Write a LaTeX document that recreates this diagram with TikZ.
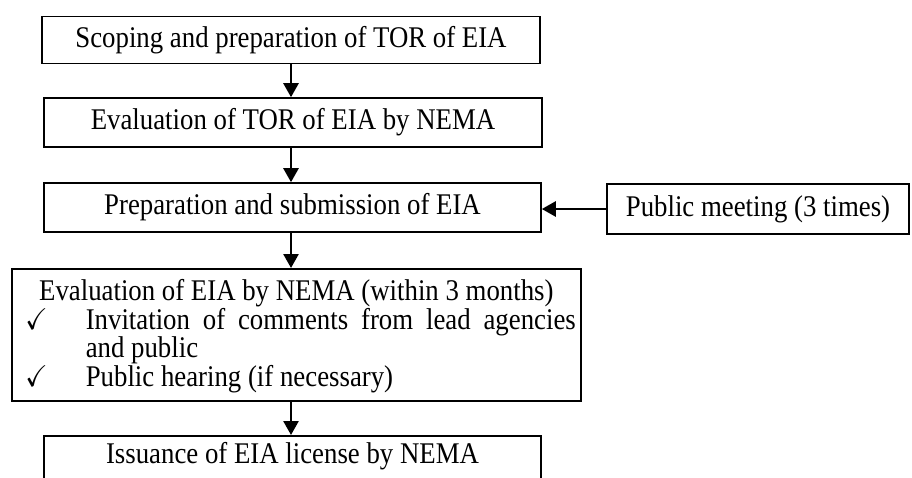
\documentclass[tikz,border=0pt]{standalone}
\usepackage{amssymb}
\usepackage{graphicx}
\usepackage{fontspec}
\setmainfont{Liberation Serif}
\usetikzlibrary{arrows.meta}
\newcommand{\tallt}[1]{\scalebox{1}[1.12]{#1}}
\begin{document}
\begin{tikzpicture}[x=1pt,y=-1pt,
  stepbox/.style={draw,line width=1.6pt,inner sep=0pt,align=center,
    font=\fontsize{26.8}{24.2}\selectfont},
  arr/.style={line width=2.6pt,-{Triangle[width=15pt,length=14pt]}}]
\clip (0,0) rectangle (912,477);
\node[stepbox,minimum width=498pt,minimum height=47pt] (b1) at (291,40) {\tallt{Scoping and preparation of TOR of EIA}};
\node[stepbox,minimum width=498pt,minimum height=49pt] (b2) at (293,122.5) {\tallt{Evaluation of TOR of EIA by NEMA}};
\node[stepbox,minimum width=497pt,minimum height=49pt] (b3) at (292.5,207.5) {\tallt{Preparation and submission of EIA}};
\node[stepbox,minimum width=302pt,minimum height=50pt] (pm) at (758,209) {\tallt{Public meeting (3 times)}};
\node[stepbox,anchor=north west,minimum width=569pt,minimum height=132pt,inner xsep=5pt,inner ysep=4pt] (b4) at (11,268) {%
\tallt{\begin{minipage}{559pt}\hbadness=10000
\vspace*{2pt}
{\centering Evaluation of EIA by NEMA (within 3 months)\par}
\begin{list}{$\checkmark$}{\setlength{\leftmargin}{69pt}\setlength{\labelwidth}{31pt}\setlength{\labelsep}{38pt}\setlength{\topsep}{0pt}\setlength{\itemsep}{0pt}\setlength{\parsep}{0pt}\setlength{\partopsep}{0pt}\setlength{\rightmargin}{0pt}}
\item Invitation of comments from lead agencies\linebreak and public
\item Public hearing (if necessary)
\end{list}
\end{minipage}}};
\node[stepbox,anchor=north,minimum width=497pt,text height=28pt,text depth=40pt] (b5) at (292.5,435) {\tallt{Issuance of EIA license by NEMA}};
\draw[arr] (b1.south) -- (b1.south |- b2.north);
\draw[arr] (b2.south -| b1.south) -- (b3.north -| b1.south);
\draw[arr] (b3.south -| b1.south) -- (b4.north -| b1.south);
\draw[arr] (b4.south -| b1.south) -- (b5.north -| b1.south);
\draw[arr] (pm.west) -- (pm.west -| b3.east);
\end{tikzpicture}
\end{document}
